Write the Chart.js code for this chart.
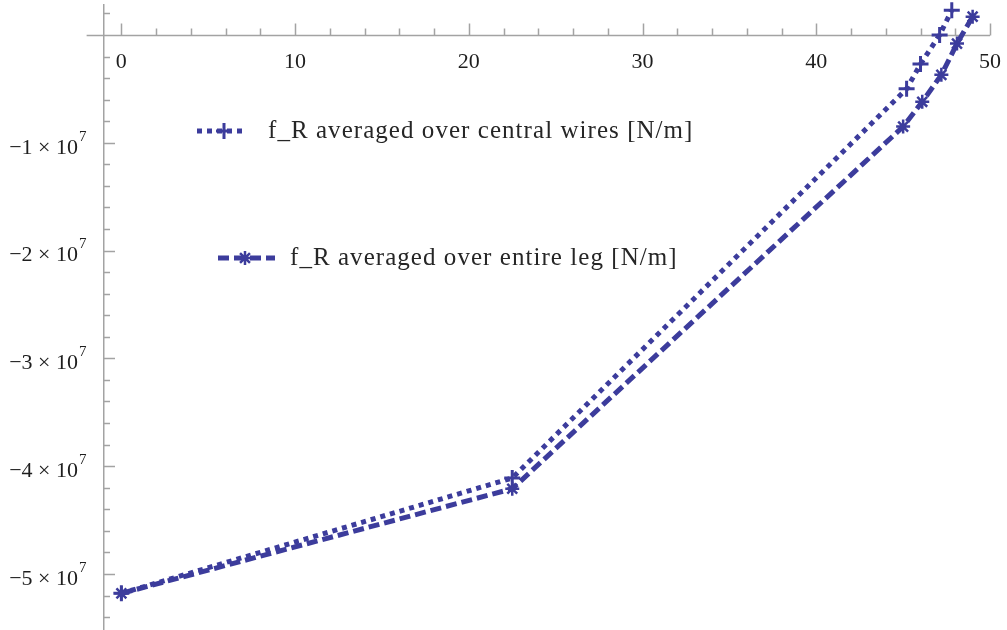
<!DOCTYPE html>
<html lang="en">
<head>
  <meta charset="UTF-8" />
  <title>f_R averaged</title>
  <script src="https://cdn.jsdelivr.net/npm/chart.js"></script>
  <style>
    html, body { margin: 0; padding: 0; background: #fff; overflow: hidden; }
    #wrap { position: relative; width: 1007px; height: 630px; overflow: hidden; }
    /* chart.js keeps ~11px above and below the plot; shift so the plot fills the page */
    #holder { position: absolute; left: 0; top: -6px; width: 1007px; height: 647px; }
  </style>
</head>
<body>
  <div id="wrap"><div id="holder"><canvas id="myChart"></canvas></div></div>

  <script>
    // data
    const centralX = [0, 22.5, 45.2, 46.0, 47.1, 47.8];
    const centralY = [-5.18e7, -4.11e7, -0.50e7, -0.27e7, 0.0, 0.23e7];
    const legX = [0, 22.5, 45.0, 46.1, 47.2, 48.1, 49.0];
    const legY = [-5.18e7, -4.21e7, -0.85e7, -0.62e7, -0.37e7, -0.08e7, 0.17e7];
    const seriesLabels = ['f_R averaged over central wires [N/m]', 'f_R averaged over entire leg [N/m]'];
    const xTickValues = [0, 10, 20, 30, 40, 50];
    const yTickValues = [-1e7, -2e7, -3e7, -4e7, -5e7];
    const yTickLabels = ['−1 × 10', '−2 × 10', '−3 × 10', '−4 × 10', '−5 × 10'];
    const yTickPower = '7';

    const blue = '#3c3c9c';
    const axisGray = '#a3a3a3';
    const textColor = '#1e1e1e';
    const serif = '"Liberation Serif", "DejaVu Serif", serif';

    const toPoints = (xs, ys) => xs.map((x, i) => ({ x: x, y: ys[i] }));

    // x axis line and the inward tick marks (x ticks up, y ticks right)
    const tickMarks = {
      id: 'tickMarks',
      beforeDatasetsDraw(chart) {
        const { ctx, chartArea, scales: { x, y } } = chart;
        const y0 = Math.round(y.getPixelForValue(0)) + 0.5;
        const xAxis = chartArea.left;
        ctx.save();
        ctx.strokeStyle = axisGray;
        ctx.lineWidth = 1.5;
        ctx.beginPath();
        ctx.moveTo(x.getPixelForValue(-2), y0);
        ctx.lineTo(x.getPixelForValue(50), y0);
        for (let v = 0; v <= 50; v += 2) {
          const px = Math.round(x.getPixelForValue(v)) + 0.5;
          const len = v % 10 === 0 ? 12 : 7;
          ctx.moveTo(px, y0);
          ctx.lineTo(px, y0 - len);
        }
        for (let k = 1; k >= -27; k--) {
          if (k === 0) continue;
          const py = Math.round(y.getPixelForValue(k * 2e6)) + 0.5;
          const len = k % 5 === 0 ? 11 : 6;
          ctx.moveTo(xAxis, py);
          ctx.lineTo(xAxis + len, py);
        }
        ctx.stroke();

        // exponent of the y tick labels (… × 10^7)
        ctx.fillStyle = textColor;
        ctx.font = '15px ' + serif;
        ctx.textAlign = 'left';
        ctx.textBaseline = 'middle';
        y.ticks.forEach(t => {
          ctx.fillText(yTickPower, xAxis - 25, y.getPixelForValue(t.value) - 6);
        });
        ctx.restore();
      }
    };

    // legend placed inside the plot, as in the original
    const insideLegend = {
      id: 'insideLegend',
      afterDraw(chart, args, opts) {
        const { ctx } = chart;
        opts.spots.forEach((s, i) => {
          const ds = chart.data.datasets[i];
          ctx.save();
          ctx.strokeStyle = ds.borderColor;
          ctx.lineWidth = ds.borderWidth;
          ctx.setLineDash(ds.borderDash);
          ctx.beginPath();
          ctx.moveTo(s.x1, s.y);
          ctx.lineTo(s.x2, s.y);
          ctx.stroke();
          ctx.setLineDash([]);
          ctx.lineWidth = ds.pointBorderWidth;
          Chart.helpers.drawPoint(ctx, {
            pointStyle: ds.pointStyle,
            rotation: 0,
            radius: ds.pointRadius,
            borderWidth: ds.pointBorderWidth
          }, s.mx, s.y);
          ctx.fillStyle = '#262626';
          ctx.font = '25px ' + serif;
          ctx.letterSpacing = '1.05px';
          ctx.textBaseline = 'middle';
          ctx.fillText(ds.label, s.tx, s.y);
          ctx.restore();
        });
      }
    };

    const ctx = document.getElementById('myChart').getContext('2d');
    const chart = new Chart(ctx, {
      type: 'line',
      data: {
        datasets: [
          {
            label: seriesLabels[0],
            data: toPoints(centralX, centralY),
            borderColor: blue,
            backgroundColor: blue,
            borderWidth: 5,
            borderDash: [5, 5],
            pointStyle: 'cross',
            pointRadius: 8,
            pointBorderWidth: 3,
            pointBorderColor: blue,
            fill: false,
            tension: 0,
            clip: false
          },
          {
            label: seriesLabels[1],
            data: toPoints(legX, legY),
            borderColor: blue,
            backgroundColor: blue,
            borderWidth: 5,
            borderDash: [11, 5],
            pointStyle: 'star',
            pointRadius: 7,
            pointBorderWidth: 2.5,
            pointBorderColor: blue,
            fill: false,
            tension: 0,
            clip: false
          }
        ]
      },
      options: {
        responsive: true,
        maintainAspectRatio: false,
        animation: false,
        layout: { padding: { left: 0, right: 17, top: 5, bottom: 0 } },
        plugins: {
          legend: { display: false },
          tooltip: { enabled: false },
          insideLegend: {
            // page y + 6 because the canvas sits 6px higher
            spots: [
              { x1: 197, x2: 243, mx: 224, y: 137, tx: 268 },
              { x1: 218, x2: 275, mx: 245, y: 264, tx: 290 }
            ]
          }
        },
        scales: {
          x: {
            type: 'linear',
            position: { y: 0 },
            min: -1,
            max: 50,
            grid: { display: false },
            border: { display: false },
            afterBuildTicks: s => { s.ticks = xTickValues.map(v => ({ value: v })); },
            afterFit: s => { s.paddingLeft = 0; s.paddingRight = 0; },
            ticks: {
              autoSkip: false,
              maxRotation: 0,
              padding: 6,
              color: textColor,
              font: { family: serif, size: 22 },
              callback: v => String(v)
            }
          },
          y: {
            type: 'linear',
            position: 'left',
            min: -5.52e7,
            max: 0.278e7,
            grid: { display: false },
            border: { display: true, color: axisGray, width: 1.5 },
            afterBuildTicks: s => { s.ticks = yTickValues.map(v => ({ value: v })); },
            afterFit: s => { s.width = 104; s.paddingTop = 0; s.paddingBottom = 0; },
            ticks: {
              autoSkip: false,
              padding: 18,
              labelOffset: 5,
              color: textColor,
              font: { family: serif, size: 22 },
              callback: v => {
                const i = yTickValues.findIndex(t => Math.abs(t - v) < 1);
                return i >= 0 ? yTickLabels[i] : '';
              }
            }
          }
        }
      },
      plugins: [tickMarks, insideLegend]
    });
  </script>
</body>
</html>
